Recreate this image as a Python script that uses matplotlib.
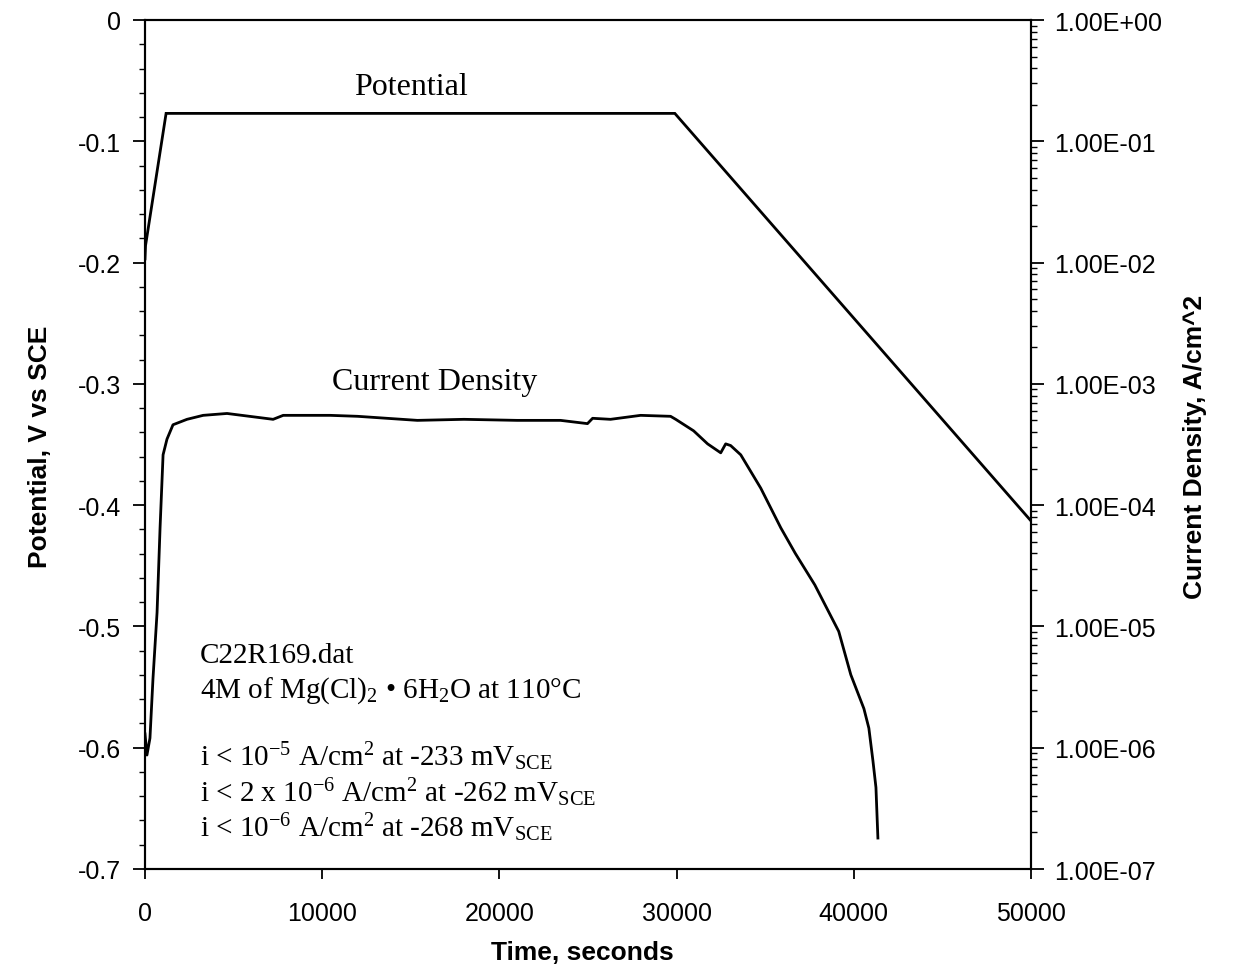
import matplotlib
matplotlib.use("Agg")
import matplotlib.pyplot as plt
from matplotlib.ticker import FixedLocator, LogLocator, NullFormatter, MultipleLocator

plt.rcParams['font.family'] = ['Liberation Sans', 'DejaVu Sans']
plt.rcParams['axes.unicode_minus'] = False
plt.rcParams['mathtext.fontset'] = 'custom'
plt.rcParams['mathtext.rm'] = 'Liberation Serif'
plt.rcParams['mathtext.it'] = 'Liberation Serif:italic'
plt.rcParams['mathtext.bf'] = 'Liberation Serif:bold'

# ---- data ----
pot_time = [0, 30, 1190, 29900, 50000]
pot_value = [-0.197, -0.186, -0.077, -0.077, -0.413]

cur_time = [0, 110, 280, 450, 680, 850, 1020, 1240, 1580, 2370, 3280, 4630,
            7230, 7800, 10450, 12000, 15370, 18000, 21000, 23450, 24970, 25260,
            26270, 27970, 29660, 29950, 30960, 31750, 32490, 32770, 33050, 33620,
            34750, 35880, 36700, 37800, 39150, 39830, 40570, 40850, 41080, 41250, 41360]
cur_value = [1.3e-6, 8.7e-7, 1.2e-6, 3.7e-6, 1.3e-5, 6.5e-5, 2.6e-4, 3.5e-4, 4.6e-4, 5.1e-4, 5.5e-4, 5.7e-4,
             5.1e-4, 5.5e-4, 5.5e-4, 5.4e-4, 5.0e-4, 5.1e-4, 5.0e-4, 5.0e-4, 4.7e-4, 5.2e-4,
             5.1e-4, 5.5e-4, 5.4e-4, 5.1e-4, 4.1e-4, 3.2e-4, 2.7e-4, 3.2e-4, 3.1e-4, 2.6e-4,
             1.38e-4, 6.5e-5, 4.0e-5, 2.2e-5, 9.1e-6, 4.0e-6, 2.1e-6, 1.45e-6, 7.8e-7, 4.7e-7, 1.8e-7]

x_ticks = [0, 10000, 20000, 30000, 40000, 50000]
left_ticks = [0, -0.1, -0.2, -0.3, -0.4, -0.5, -0.6, -0.7]
left_labels = ["0", "-0.1", "-0.2", "-0.3", "-0.4", "-0.5", "-0.6", "-0.7"]
right_ticks = [1e0, 1e-1, 1e-2, 1e-3, 1e-4, 1e-5, 1e-6, 1e-7]
right_labels = ["1.00E+00", "1.00E-01", "1.00E-02", "1.00E-03", "1.00E-04", "1.00E-05", "1.00E-06", "1.00E-07"]

annotation_lines = [
    "C22R169.dat",
    "4M of Mg(Cl)$_2$ \u2022 6H$_2$O at 110\u00b0C",
    "i < 10$^{-5}$ A/cm$^2$ at -233 mV$_{\\mathrm{SCE}}$",
    "i < 2 x 10$^{-6}$ A/cm$^2$ at -262 mV$_{\\mathrm{SCE}}$",
    "i < 10$^{-6}$ A/cm$^2$ at -268 mV$_{\\mathrm{SCE}}$",
]
annotation_y = [-0.529, -0.558, -0.6145, -0.644, -0.673]

# ---- figure ----
fig = plt.figure(figsize=(12.43, 9.70), dpi=100)
ax = fig.add_axes([145/1243, 1 - 870/970, (1031 - 145)/1243, (870 - 21)/970])
ax2 = ax.twinx()

ax.plot(pot_time, pot_value, color='black', lw=2.0, solid_joinstyle='miter')
ax2.plot(cur_time, cur_value, color='black', lw=2.0)

ax.set_xlim(0, 50000)
ax.set_ylim(-0.7, 0)
ax2.set_yscale('log')
ax2.set_ylim(1e-7, 1e0)

ax.xaxis.set_major_locator(FixedLocator(x_ticks))
ax.set_xticklabels([str(v) for v in x_ticks])
ax.yaxis.set_major_locator(FixedLocator(left_ticks))
ax.set_yticklabels(left_labels)
ax.yaxis.set_minor_locator(MultipleLocator(0.02))

ax2.yaxis.set_major_locator(FixedLocator(right_ticks))
ax2.set_yticklabels(right_labels)
ax2.yaxis.set_minor_locator(LogLocator(base=10, subs=range(2, 10), numticks=20))
ax2.yaxis.set_minor_formatter(NullFormatter())

for a in (ax, ax2):
    for s in a.spines.values():
        s.set_linewidth(1.5)
        s.set_color('black')

ax.tick_params(axis='x', which='major', direction='out', length=7, width=1.3, labelsize=18, pad=16)
ax.tick_params(axis='y', which='major', direction='out', length=9, width=1.3, labelsize=18, pad=8)
ax.tick_params(axis='y', which='minor', direction='out', length=4, width=1.0)
ax2.tick_params(axis='y', which='major', direction='out', length=9, width=1.3, labelsize=18, pad=8)
ax2.tick_params(axis='y', which='minor', direction='out', length=4, width=1.0)

ax.set_xlabel("Time, seconds", fontsize=19, fontweight='bold')
ax.set_ylabel("Potential, V vs SCE", fontsize=19, fontweight='bold')
ax2.set_ylabel("Current Density, A/cm^2", fontsize=19, fontweight='bold')
ax.xaxis.set_label_coords(0.494, -0.084)
ax.yaxis.set_label_coords(-0.105, 0.498)
ax2.yaxis.set_label_coords(1.172, 0.498)

serif = ['Liberation Serif', 'DejaVu Serif']
ax.text(15000, -0.0552, "Potential", fontsize=23, family=serif, ha='center', va='center')
ax.text(16370, -0.298, "Current Density", fontsize=23, family=serif, ha='center', va='center')
for line, yv in zip(annotation_lines, annotation_y):
    ax.text(3100, yv, line, fontsize=21, family=serif, ha='left', va='baseline')

fig.savefig("out.png", dpi=100)
